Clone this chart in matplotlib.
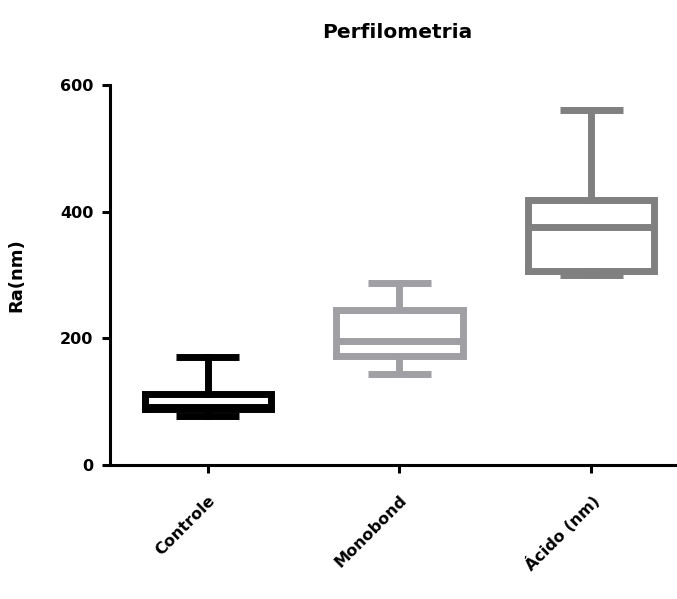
import matplotlib
matplotlib.use("Agg")
import matplotlib.pyplot as plt

# wide bold face to get closer to the spaced-out Prism lettering
plt.rcParams['font.family'] = ['DejaVu Sans']

# Box plot summary values (Ra in nm)
groups = ["Controle", "Monobond", "Ácido (nm)"]
mins = [78, 143, 300]
q1s = [89, 172, 307]
medians = [91, 196, 376]
q3s = [112, 244, 419]
maxs = [171, 287, 561]
colors = ["#000000", "#A0A0A4", "#808080"]

y_ticks = [0, 200, 400, 600]


def make_stats():
    stats = []
    for name, lo, a, m, b, hi in zip(groups, mins, q1s, medians, q3s, maxs):
        stats.append({"label": name, "whislo": lo, "q1": a, "med": m,
                      "q3": b, "whishi": hi, "fliers": []})
    return stats


fig = plt.figure(figsize=(6.77, 5.99), dpi=100)
# axes runs past the right edge of the figure like the original
ax = fig.add_axes([110 / 677, 1 - 465 / 599, (687 - 110) / 677, 380 / 599])

stats = make_stats()
for i, (st, col) in enumerate(zip(stats, colors)):
    lw = 5.0
    ax.bxp([st], positions=[i + 1], widths=0.66, capwidths=0.33,
           showfliers=False, patch_artist=False,
           boxprops=dict(color=col, linewidth=lw, solid_joinstyle='miter'),
           whiskerprops=dict(color=col, linewidth=lw),
           capprops=dict(color=col, linewidth=lw, solid_capstyle='butt'),
           medianprops=dict(color=col, linewidth=lw, solid_capstyle='butt'))

ax.set_xlim(0.49, 3.5)
ax.set_ylim(0, 600)
ax.set_yticks(y_ticks)
ax.set_yticklabels([str(t) for t in y_ticks], fontsize=11.5, fontweight='bold')
ax.set_xticks([1, 2, 3])
ax.set_xticklabels(groups, fontsize=11.5, fontweight='bold', rotation=45,
                   ha='right', rotation_mode='anchor')

for side in ['top', 'right']:
    ax.spines[side].set_visible(False)
for side in ['left', 'bottom']:
    ax.spines[side].set_linewidth(2.2)
ax.spines['left'].set_bounds(0, 600)
ax.tick_params(axis='both', width=2.2, length=6, color='black')
ax.tick_params(axis='x', pad=14)
ax.tick_params(axis='y', pad=6)

ax.set_ylabel("Ra(nm)", fontsize=13, fontweight='bold')
ax.yaxis.set_label_coords(-85 / 577, 0.5)
fig.text(397 / 677, 1 - 32 / 599, "Perfilometria", fontsize=14.5,
         fontweight='bold', ha='center', va='center')

fig.savefig("out.png", dpi=100)
